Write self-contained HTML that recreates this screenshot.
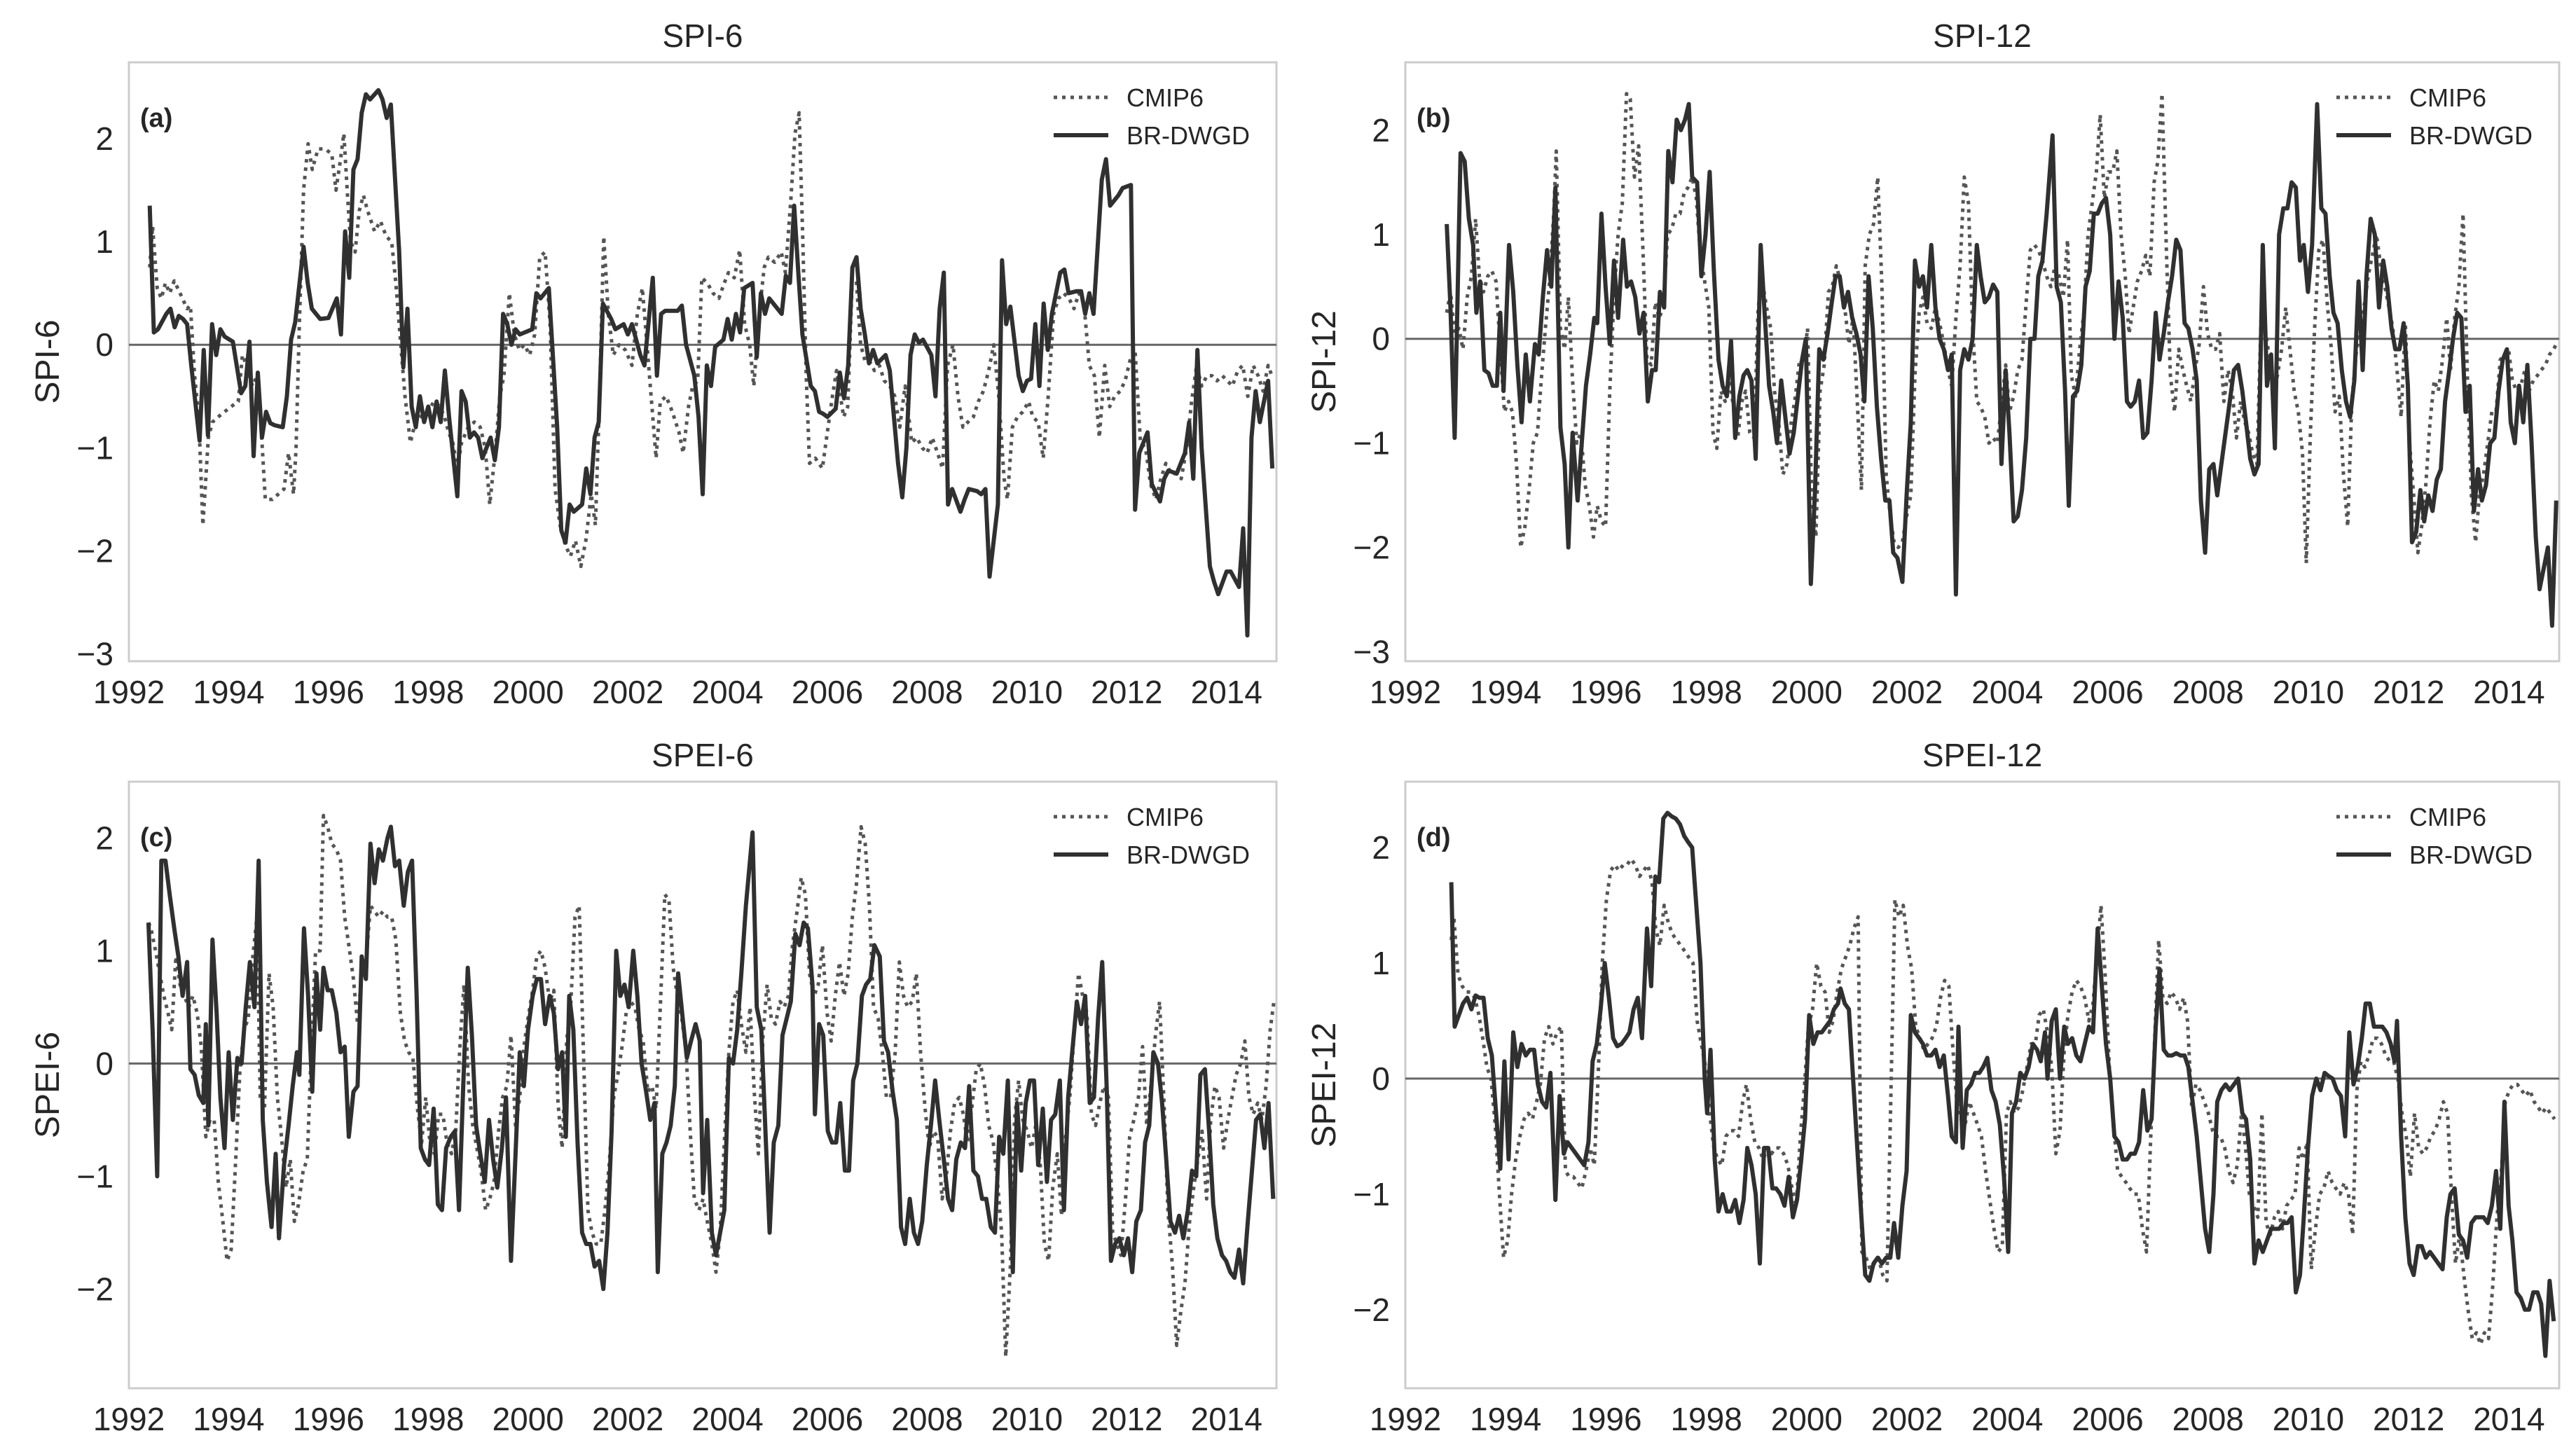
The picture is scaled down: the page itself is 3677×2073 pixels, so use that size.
<!DOCTYPE html>
<html><head><meta charset="utf-8"><title>SPI / SPEI comparison</title>
<style>
html,body{margin:0;padding:0;background:#fff;}
svg{display:block;font-family:"Liberation Sans",Arial,sans-serif;}
</style></head>
<body>
<svg id="chart" xmlns="http://www.w3.org/2000/svg" width="3677" height="2073" viewBox="0 0 3677 2073">
<rect x="0" y="0" width="3677" height="2073" fill="#ffffff"/>
</svg>
<script>
// month index counted from Jan 1992 (0). Each series: [month, value]
const xTickYears = [1992,1994,1996,1998,2000,2002,2004,2006,2008,2010,2012,2014];
const yTicksSPI = [-3,-2,-1,0,1,2];
const yTicksSPEI = [-2,-1,0,1,2];

const spi6Obs = [[5,1.35],[6,0.12],[7,0.15],[9,0.3],[10,0.35],[11,0.17],[12,0.28],[13,0.25],[14,0.2],[15,-0.2],[17,-0.93],[18,-0.05],[19,-0.88],[20,0.2],[21,-0.1],[22,0.15],[23,0.08],[25,0.03],[27,-0.47],[28,-0.4],[29,0.03],[30,-1.08],[31,-0.27],[32,-0.9],[33,-0.65],[34,-0.76],[35,-0.78],[37,-0.8],[38,-0.5],[39,0.05],[40,0.22],[42,0.95],[43,0.6],[44,0.35],[46,0.25],[48,0.26],[50,0.45],[51,0.1],[52,1.1],[53,0.65],[54,1.7],[55,1.8],[56,2.25],[57,2.43],[58,2.38],[60,2.47],[61,2.38],[62,2.2],[63,2.33],[65,0.9],[66,-0.22],[67,0.35],[68,-0.6],[69,-0.8],[70,-0.5],[71,-0.75],[72,-0.6],[73,-0.8],[74,-0.55],[75,-0.75],[76,-0.25],[77,-0.7],[79,-1.47],[80,-0.45],[81,-0.55],[82,-0.9],[83,-0.85],[84,-0.9],[85,-1.1],[87,-0.9],[88,-1.12],[89,-0.8],[90,0.3],[91,0.2],[92,0.0],[93,0.15],[94,0.1],[97,0.15],[98,0.5],[99,0.45],[101,0.55],[103,-0.8],[104,-1.8],[105,-1.92],[106,-1.55],[107,-1.62],[109,-1.55],[110,-1.2],[111,-1.45],[112,-0.9],[113,-0.75],[114,0.4],[116,0.25],[117,0.15],[119,0.2],[120,0.1],[121,0.2],[123,-0.1],[124,-0.2],[126,0.65],[127,-0.3],[128,0.3],[129,0.33],[132,0.33],[133,0.38],[134,0.0],[136,-0.3],[137,-0.7],[138,-1.45],[139,-0.2],[140,-0.4],[141,-0.02],[143,0.05],[144,0.25],[145,0.05],[146,0.3],[147,0.12],[148,0.55],[150,0.6],[151,-0.12],[152,0.5],[153,0.3],[154,0.45],[155,0.4],[157,0.3],[158,0.67],[159,0.6],[160,1.35],[161,0.7],[162,0.1],[164,-0.4],[165,-0.45],[166,-0.65],[167,-0.67],[168,-0.7],[170,-0.62],[171,-0.27],[172,-0.52],[173,-0.2],[174,0.75],[175,0.85],[176,0.35],[177,0.1],[178,-0.18],[179,-0.05],[180,-0.18],[182,-0.1],[183,-0.25],[184,-0.7],[185,-1.15],[186,-1.48],[187,-1.0],[188,-0.1],[189,0.1],[190,0.02],[191,0.05],[193,-0.1],[194,-0.5],[195,0.35],[196,0.7],[197,-1.55],[198,-1.4],[200,-1.62],[201,-1.5],[202,-1.4],[204,-1.42],[205,-1.45],[206,-1.4],[207,-2.25],[209,-1.55],[210,0.82],[211,0.2],[212,0.37],[214,-0.3],[215,-0.45],[216,-0.35],[217,-0.33],[218,0.2],[219,-0.4],[220,0.4],[221,-0.05],[222,0.3],[224,0.7],[225,0.73],[226,0.5],[228,0.52],[229,0.52],[230,0.3],[231,0.5],[232,0.3],[234,1.6],[235,1.8],[236,1.35],[238,1.45],[239,1.52],[241,1.55],[242,-1.6],[243,-1.05],[245,-0.85],[246,-1.35],[248,-1.52],[249,-1.3],[250,-1.22],[252,-1.25],[254,-1.05],[255,-0.75],[256,-1.3],[257,-0.05],[258,-1.0],[260,-2.15],[261,-2.3],[262,-2.42],[264,-2.2],[265,-2.2],[267,-2.35],[268,-1.78],[269,-2.82],[270,-0.9],[271,-0.45],[272,-0.75],[274,-0.35],[275,-1.2]];

const spi6Mod = [[5,0.75],[5.7,1.15],[6.8,0.55],[7.8,0.45],[8.8,0.6],[9.8,0.5],[10.9,0.62],[12.3,0.5],[14,0.35],[14.8,0.38],[15.8,-0.3],[16.8,-0.7],[17.8,-1.75],[19.1,-0.9],[20.1,-0.75],[21.5,-0.7],[23,-0.65],[24.6,-0.6],[26.3,-0.55],[27.3,-0.1],[28.3,-0.2],[29.7,-0.4],[30.8,-0.3],[31.8,-0.8],[32.8,-1.5],[34.5,-1.5],[35.9,-1.45],[37.3,-1.4],[38.4,-1.05],[39.6,-1.45],[40.2,-1.0],[41,0.2],[42,1.5],[43.1,1.95],[44.1,1.7],[45.5,1.9],[47.2,1.9],[48.8,1.85],[49.8,1.5],[50.9,1.8],[51.7,2.05],[52.5,1.5],[53.3,1.0],[54.4,0.9],[55.4,1.3],[56.4,1.45],[57.4,1.3],[59.1,1.1],[60.5,1.2],[61.9,1.05],[63.2,1.0],[64.2,0.6],[65.2,0.1],[66.4,-0.5],[67.7,-0.95],[68.9,-0.75],[70.1,-0.7],[71.8,-0.65],[73.4,-0.55],[74.8,-0.6],[75.9,-0.7],[76.9,-0.85],[77.9,-0.95],[79,-1.2],[80,-0.95],[81.6,-0.8],[83.1,-0.75],[84.5,-0.8],[85.7,-1.0],[86.8,-1.55],[88.2,-1.0],[89.2,-0.5],[90.2,-0.3],[91.5,0.5],[92.7,0.1],[93.9,-0.05],[95.1,0.0],[96.4,-0.1],[97.6,0.1],[98.8,0.85],[100.1,0.9],[101.3,0.2],[102.5,-1.4],[103.7,-1.75],[105,-1.95],[106.2,-2.05],[107.4,-1.9],[108.7,-2.15],[109.9,-1.9],[111.2,-1.45],[112.2,-1.75],[113.2,-0.5],[114.2,1.05],[115.3,0.3],[116.5,-0.1],[117.9,0.0],[119.4,-0.05],[121,-0.2],[122.3,0.3],[123.5,0.55],[124.6,0.0],[125.8,-0.6],[126.8,-1.1],[127.8,-0.55],[129.2,-0.5],[130.7,-0.65],[132.3,-0.85],[133.3,-1.05],[134.6,-0.6],[135.6,-0.4],[136.8,-0.35],[137.8,0.65],[139.1,0.6],[140.5,0.5],[141.9,0.45],[143.2,0.6],[144.2,0.7],[145.6,0.65],[146.9,0.92],[148.1,0.2],[149.3,0.0],[150.3,-0.4],[151.6,0.3],[152.8,0.75],[153.8,0.85],[155.3,0.8],[156.9,0.9],[157.9,0.7],[159.2,1.4],[160.2,2.05],[161.2,2.25],[162.1,1.0],[162.9,-0.3],[163.7,-1.15],[165.1,-1.1],[166.8,-1.2],[167.8,-0.9],[169.2,-0.5],[170.2,-0.25],[171.9,-0.7],[172.9,-0.6],[173.9,0.55],[175,0.6],[176,0.0],[177,-0.15],[178,-0.15],[179.3,-0.25],[180.5,-0.2],[181.7,-0.35],[183,-0.4],[184.2,-0.5],[185.4,-0.8],[186.7,-0.4],[188.3,-0.95],[189.5,-0.9],[190.8,-1.0],[192,-1.05],[193.2,-0.9],[194.5,-1.05],[195.7,-1.2],[196.9,-0.2],[198.2,0.0],[199.4,-0.5],[200.6,-0.8],[201.8,-0.75],[203.1,-0.7],[204.3,-0.55],[205.5,-0.45],[206.8,-0.25],[208,0.0],[209.2,-0.5],[210.5,-1.3],[211.3,-1.5],[212.5,-0.8],[213.7,-0.7],[215,-0.65],[216.4,-0.55],[217.4,-0.7],[218.7,-0.75],[219.9,-1.1],[221.1,-0.5],[222.4,0.3],[223.6,0.45],[224.8,0.5],[226.1,0.45],[227.3,0.35],[228.5,0.5],[229.7,0.4],[231,-0.2],[232.2,-0.3],[233.4,-0.9],[234.7,-0.2],[235.9,-0.6],[237.1,-0.5],[238.4,-0.45],[239.6,-0.35],[240.8,-0.15],[242,-0.05],[243.3,-0.95],[244.5,-1.0],[245.7,-1.35],[247,-1.5],[248.2,-1.3],[249.4,-1.15],[250.7,-1.25],[251.9,-1.25],[253.1,-1.3],[254.4,-1.0],[255.6,-0.55],[256.8,-0.2],[258,-0.4],[259.3,-0.3],[260.5,-0.3],[261.7,-0.35],[263,-0.3],[264.2,-0.35],[265.4,-0.4],[266.7,-0.25],[267.9,-0.2],[269.1,-0.5],[270.4,-0.2],[271.6,-0.3],[272.8,-0.45],[274,-0.2],[274.9,-0.3]];

const spi12Obs = [[9.9,1.1],[10.8,0.3],[11.8,-0.95],[13.2,1.78],[14.2,1.7],[15.2,1.15],[16.2,0.9],[17.0,0.25],[17.9,0.55],[18.9,-0.3],[19.9,-0.33],[20.9,-0.45],[21.9,-0.45],[22.7,0.25],[23.5,-0.5],[24.8,0.9],[25.8,0.45],[26.8,-0.25],[27.8,-0.8],[28.8,-0.15],[29.8,-0.6],[31.0,-0.05],[31.9,-0.15],[32.9,0.4],[33.9,0.85],[34.9,0.5],[35.9,1.45],[37.1,-0.85],[38.1,-1.2],[39.0,-2.0],[40.0,-0.9],[41.2,-1.55],[42.2,-1.0],[43.2,-0.45],[44.2,-0.15],[45.2,0.2],[45.9,0.15],[46.9,1.2],[47.9,0.5],[48.9,-0.05],[49.9,0.75],[50.9,0.2],[52.1,0.95],[53.0,0.5],[54.0,0.55],[55.0,0.4],[56.0,0.05],[57.0,0.25],[58.0,-0.6],[59.0,-0.3],[59.9,-0.3],[60.9,0.45],[61.9,0.3],[62.9,1.8],[63.9,1.5],[64.9,2.1],[65.9,2.0],[66.9,2.1],[67.8,2.25],[68.6,1.55],[69.8,1.5],[70.8,0.6],[71.8,1.0],[72.8,1.6],[73.8,0.65],[74.9,-0.2],[75.9,-0.45],[76.9,-0.55],[77.9,-0.02],[78.9,-0.95],[79.9,-0.55],[80.9,-0.35],[81.8,-0.3],[82.8,-0.4],[83.8,-1.15],[85.0,0.9],[86.0,0.2],[87.0,-0.45],[88.0,-0.7],[88.9,-1.0],[89.9,-0.4],[90.9,-0.75],[91.9,-1.1],[92.9,-0.9],[93.9,-0.55],[94.9,-0.2],[95.8,0.0],[97.0,-2.35],[98.0,-1.45],[99.0,-0.1],[100.0,-0.2],[101.0,0.05],[102.0,0.35],[102.9,0.6],[103.9,0.6],[104.9,0.3],[105.9,0.45],[106.9,0.2],[107.9,0.05],[108.9,-0.15],[109.8,-0.6],[110.8,0.6],[111.8,0.1],[112.8,-0.65],[113.8,-1.15],[114.8,-1.55],[115.8,-1.55],[116.7,-2.05],[117.7,-2.1],[118.9,-2.33],[119.9,-1.5],[120.9,-0.8],[121.9,0.75],[122.9,0.5],[123.8,0.6],[124.8,0.3],[125.8,0.9],[126.8,0.3],[127.8,0.0],[128.8,-0.1],[129.8,-0.3],[130.7,-0.15],[131.7,-2.45],[132.7,-0.3],[133.7,-0.1],[134.7,-0.2],[135.7,0.0],[136.7,0.9],[137.6,0.6],[138.6,0.35],[139.6,0.4],[140.6,0.52],[141.6,0.45],[142.6,-1.2],[143.6,-0.3],[144.5,-0.9],[145.5,-1.75],[146.5,-1.7],[147.5,-1.45],[148.5,-0.95],[149.5,0.0],[150.5,0.0],[151.4,0.6],[152.4,0.75],[153.4,1.2],[154.8,1.95],[155.8,0.5],[156.8,0.35],[157.8,-0.5],[158.7,-1.6],[159.7,-0.55],[160.7,-0.5],[161.7,-0.25],[162.7,0.5],[163.7,0.65],[164.7,1.2],[165.6,1.2],[166.6,1.3],[167.6,1.35],[168.6,1.0],[169.6,0.0],[170.6,0.55],[171.6,0.2],[172.6,-0.6],[173.5,-0.65],[174.5,-0.6],[175.5,-0.4],[176.5,-0.95],[177.5,-0.9],[178.5,-0.4],[179.5,0.25],[180.4,-0.2],[181.4,0.05],[182.4,0.35],[183.4,0.6],[184.4,0.95],[185.4,0.85],[186.4,0.15],[187.3,0.1],[188.3,-0.1],[189.3,-0.4],[190.3,-1.55],[191.3,-2.05],[192.3,-1.25],[193.3,-1.2],[194.2,-1.5],[195.2,-1.2],[196.2,-0.9],[197.2,-0.6],[198.2,-0.3],[199.2,-0.25],[200.2,-0.5],[201.1,-0.8],[202.1,-1.15],[203.1,-1.3],[204.1,-1.2],[205.1,0.9],[206.1,-0.45],[207.1,-0.15],[208.0,-1.05],[209.0,1.0],[210.0,1.25],[211.0,1.25],[212.0,1.5],[213.0,1.45],[214.0,0.75],[214.9,0.9],[215.9,0.45],[216.9,0.9],[218.1,2.25],[219.1,1.25],[220.1,1.2],[221.1,0.6],[222.0,0.25],[223.0,0.15],[224.0,-0.3],[225.0,-0.6],[226.0,-0.75],[227.0,-0.4],[228.0,0.55],[229.0,-0.3],[229.9,0.6],[230.9,1.15],[231.9,1.0],[232.9,0.3],[233.9,0.75],[234.9,0.5],[235.9,0.1],[236.8,-0.1],[237.8,-0.1],[238.8,0.15],[239.8,-0.45],[240.8,-1.95],[241.8,-1.85],[242.8,-1.45],[243.7,-1.75],[244.7,-1.5],[245.7,-1.65],[246.7,-1.35],[247.7,-1.25],[248.7,-0.6],[249.7,-0.3],[250.6,0.0],[251.6,0.25],[252.6,0.2],[253.6,-0.7],[254.6,-0.45],[255.6,-1.65],[256.6,-1.25],[257.5,-1.55],[258.5,-1.4],[259.5,-1.0],[260.5,-0.95],[261.5,-0.5],[262.5,-0.2],[263.5,-0.1],[264.4,-0.8],[265.4,-1.0],[266.4,-0.45],[267.4,-0.8],[268.4,-0.25],[269.4,-1.0],[270.4,-1.9],[271.3,-2.4],[272.3,-2.2],[273.3,-2.0],[274.3,-2.75],[275.3,-1.55]];

const spi12Mod = [[9.9,0.25],[10.8,0.45],[11.8,0.05],[12.8,0.1],[13.8,-0.1],[14.8,0.4],[15.8,0.6],[16.8,1.15],[17.7,0.6],[18.7,0.45],[19.7,0.6],[20.7,0.65],[21.7,0.55],[22.7,-0.1],[23.7,-0.7],[24.7,-0.6],[25.6,-0.7],[26.6,-1.2],[27.6,-2.0],[28.6,-1.8],[29.6,-1.45],[30.6,-1.0],[31.6,-0.9],[32.5,-0.4],[33.5,0.1],[34.5,0.55],[35.5,1.2],[36.1,1.8],[37.1,0.1],[38.1,-0.1],[39.0,0.4],[40.0,-0.4],[41.0,-1.0],[42.0,-0.9],[43.0,-1.4],[44.0,-1.6],[45.0,-1.9],[45.9,-1.6],[46.9,-1.75],[47.9,-1.8],[48.9,-0.5],[49.9,0.4],[50.9,1.0],[51.9,1.3],[52.9,2.35],[53.8,2.3],[54.8,1.55],[55.8,1.85],[56.8,0.9],[57.8,-0.2],[58.8,-0.25],[59.8,0.35],[60.7,0.2],[61.7,0.3],[62.7,1.0],[63.7,1.05],[64.7,1.2],[65.7,1.2],[66.7,1.4],[67.6,1.45],[68.6,1.55],[69.6,1.35],[70.6,0.8],[71.6,0.55],[72.6,0.3],[73.6,-0.9],[74.5,-1.05],[75.5,-0.5],[76.5,-0.6],[77.5,-0.4],[78.5,-0.65],[79.5,-0.95],[80.5,-0.6],[81.4,-0.5],[82.4,-0.9],[83.4,-0.95],[84.4,0.3],[85.4,0.55],[86.4,0.3],[87.4,0.1],[88.3,-0.5],[89.3,-0.8],[90.3,-1.3],[91.3,-1.2],[92.3,-0.8],[93.3,-0.55],[94.3,-0.2],[95.2,-0.25],[96.2,0.1],[97.2,-1.5],[98.2,-1.9],[99.2,-0.5],[100.2,-0.25],[101.2,0.45],[102.1,0.5],[103.1,0.7],[104.1,0.55],[105.1,0.3],[106.1,-0.05],[107.1,0.2],[108.1,-0.6],[109.1,-1.45],[110.0,0.7],[111.0,1.0],[112.0,1.1],[113.0,1.55],[114.0,0.5],[115.0,-1.3],[116.0,-1.7],[116.9,-1.95],[117.9,-2.0],[118.9,-1.95],[119.9,-1.7],[120.9,-1.5],[121.9,-0.35],[122.9,0.25],[123.8,0.4],[124.8,0.15],[125.8,0.1],[126.8,0.3],[127.8,0.15],[128.8,-0.05],[129.8,-0.3],[130.7,-0.45],[131.7,0.2],[132.7,0.7],[133.7,1.55],[134.7,1.3],[135.7,0.1],[136.7,-0.6],[137.6,-0.65],[138.6,-0.75],[139.6,-1.0],[140.6,-0.95],[141.6,-1.0],[142.6,-0.65],[143.6,-0.25],[144.5,-0.7],[145.5,-0.55],[146.5,-0.3],[147.5,-0.2],[148.5,0.35],[149.5,0.85],[150.5,0.9],[151.4,0.85],[152.4,0.75],[153.4,0.6],[154.4,0.5],[155.4,0.7],[156.4,0.6],[157.4,0.4],[158.4,0.95],[159.3,-0.35],[160.3,-0.55],[161.3,-0.1],[162.3,0.25],[163.3,1.0],[164.3,1.3],[165.3,1.6],[166.2,2.15],[167.2,1.35],[168.2,1.6],[169.2,1.6],[170.2,1.8],[171.2,1.0],[172.2,0.6],[173.1,0.05],[174.1,0.3],[175.1,0.55],[176.1,0.65],[177.1,0.8],[178.1,0.6],[179.1,1.5],[180.0,1.7],[181.0,2.35],[182.0,0.9],[183.0,-0.35],[184.0,-0.7],[185.0,-0.1],[186.0,-0.3],[186.9,-0.45],[187.9,-0.6],[188.9,-0.3],[189.9,-0.05],[190.9,0.5],[191.9,0.05],[192.9,-0.1],[193.8,-0.1],[194.8,0.05],[195.8,-0.6],[196.8,-0.3],[197.8,-0.5],[198.8,-0.95],[199.8,-0.6],[200.8,-0.8],[201.7,-0.9],[202.7,-1.1],[203.7,-1.2],[204.7,0.2],[205.7,0.1],[206.7,-0.2],[207.7,-0.5],[208.6,-0.35],[209.6,-0.1],[210.6,0.3],[211.6,-0.1],[212.6,-0.5],[213.6,-0.7],[214.6,-1.1],[215.5,-2.15],[216.5,-0.9],[217.5,0.1],[218.5,0.85],[219.5,0.95],[220.5,0.35],[221.5,-0.1],[222.4,-0.7],[223.4,-0.55],[224.4,-1.3],[225.4,-1.8],[226.4,-0.6],[227.4,-0.15],[228.4,0.1],[229.3,0.3],[230.3,0.6],[231.3,0.8],[232.3,1.0],[233.3,0.7],[234.3,0.5],[235.3,0.3],[236.2,0.1],[237.2,-0.3],[238.2,-0.75],[239.2,0.15],[240.2,-1.0],[241.2,-1.5],[242.2,-2.05],[243.1,-1.8],[244.1,-1.4],[245.1,-0.8],[246.1,-0.4],[247.1,-0.5],[248.1,-0.2],[249.1,0.2],[250.0,-0.3],[251.0,0.2],[252.0,0.5],[253.0,1.2],[254.0,-0.3],[255.0,-1.5],[256.0,-1.95],[256.9,-1.5],[257.9,-1.3],[258.9,-1.0],[259.9,-0.7],[260.9,-0.7],[261.9,-0.2],[262.9,-0.15],[263.9,-0.1],[264.8,-0.4],[265.8,-0.5],[266.8,-0.45],[267.8,-0.3],[268.8,-0.5],[269.8,-0.4],[270.8,-0.35],[271.7,-0.3],[272.7,-0.25],[273.7,-0.15],[274.7,-0.1],[275.3,-0.05]];

const spei6Obs = [[4.7,1.25],[5.7,0.3],[6.8,-1.0],[7.8,1.8],[8.8,1.8],[9.8,1.5],[10.9,1.2],[11.9,0.95],[12.9,0.6],[14.0,0.9],[14.8,-0.05],[15.8,-0.1],[16.8,-0.28],[17.9,-0.35],[18.5,0.35],[19.1,-0.55],[20.1,1.1],[21.1,0.45],[22.0,-0.3],[23.0,-0.75],[24.0,0.1],[25.0,-0.5],[26.1,0.05],[27.1,0.0],[28.1,0.5],[29.1,0.9],[30.2,0.5],[31.2,1.8],[32.2,-0.5],[33.2,-1.05],[34.3,-1.45],[35.3,-0.8],[36.1,-1.55],[37.3,-0.9],[38.4,-0.55],[39.4,-0.2],[40.4,0.1],[41.0,-0.1],[42.1,1.2],[43.1,0.6],[44.1,-0.25],[45.1,0.8],[46.0,0.3],[46.8,0.85],[47.8,0.65],[48.8,0.65],[49.9,0.45],[50.9,0.1],[51.9,0.15],[52.9,-0.65],[54.0,-0.25],[55.0,-0.2],[56.0,0.95],[57.0,0.75],[58.1,1.95],[59.1,1.6],[60.1,1.9],[61.1,1.8],[62.2,2.0],[63.0,2.1],[64.0,1.75],[65.0,1.8],[66.1,1.4],[67.1,1.7],[68.1,1.8],[69.2,0.6],[70.2,-0.75],[71.2,-0.85],[72.2,-0.9],[73.3,-0.4],[74.3,-1.25],[75.3,-1.3],[76.3,-0.75],[77.4,-0.65],[78.4,-0.6],[79.4,-1.3],[80.4,-0.2],[81.5,0.85],[82.5,0.25],[83.5,-0.55],[84.5,-0.8],[85.6,-1.05],[86.6,-0.5],[87.6,-0.85],[88.6,-1.1],[89.7,-0.75],[90.7,-0.3],[91.9,-1.75],[93.0,-0.8],[94.0,0.1],[95.0,-0.2],[96.0,0.3],[97.1,0.6],[98.1,0.75],[99.1,0.75],[100.1,0.35],[101.2,0.6],[102.2,0.45],[103.2,-0.05],[104.2,0.1],[105.1,-0.65],[105.9,0.6],[106.9,0.3],[107.9,-0.7],[109.0,-1.5],[110.0,-1.6],[111.0,-1.6],[112.0,-1.8],[113.1,-1.75],[114.1,-2.0],[115.1,-1.5],[116.1,-0.6],[117.2,1.0],[118.2,0.6],[119.2,0.7],[120.2,0.5],[121.3,1.0],[122.3,0.6],[123.3,0.0],[124.4,-0.25],[125.4,-0.5],[126.4,-0.35],[127.2,-1.85],[128.3,-0.8],[129.3,-0.7],[130.3,-0.55],[131.3,-0.2],[132.1,0.8],[133.2,0.4],[134.2,0.05],[135.2,0.2],[136.3,0.35],[137.3,0.2],[138.1,-1.15],[139.1,-0.5],[140.2,-1.5],[141.2,-1.7],[142.2,-1.5],[143.2,-1.3],[144.3,0.05],[145.3,0.0],[146.3,0.3],[147.3,0.8],[148.4,1.4],[150.0,2.05],[151.0,0.5],[152.1,0.3],[153.1,-0.6],[154.1,-1.5],[155.1,-0.7],[156.2,-0.55],[157.2,0.25],[158.2,0.4],[159.2,0.55],[160.3,1.15],[161.3,1.05],[162.3,1.25],[163.3,1.2],[164.4,0.7],[165.0,-0.45],[166.0,0.35],[167.0,0.25],[168.1,-0.6],[169.1,-0.7],[170.1,-0.7],[171.1,-0.35],[172.2,-0.95],[173.2,-0.95],[174.2,-0.15],[175.2,0.0],[176.3,0.6],[177.3,0.7],[178.3,0.75],[179.3,1.05],[180.6,0.95],[181.6,0.2],[182.6,0.1],[183.7,-0.25],[184.7,-0.5],[185.7,-1.45],[186.7,-1.6],[187.8,-1.2],[188.8,-1.5],[189.8,-1.6],[190.8,-1.4],[191.9,-0.9],[192.9,-0.55],[193.9,-0.15],[194.9,-0.5],[196.0,-0.85],[197.0,-1.2],[198.0,-1.3],[199.0,-0.85],[200.1,-0.7],[201.1,-0.75],[202.1,-0.2],[203.1,-0.95],[204.2,-1.0],[205.2,-1.2],[206.2,-1.2],[207.3,-1.45],[208.3,-1.5],[209.3,-0.65],[210.3,-0.8],[211.4,-0.15],[212.6,-1.85],[213.6,-0.35],[214.6,-0.95],[215.7,-0.35],[216.7,-0.15],[217.7,-0.15],[218.7,-0.9],[219.8,-0.4],[220.8,-1.05],[221.8,-0.5],[222.8,-0.45],[223.9,-0.15],[224.9,-1.3],[225.9,-0.3],[227.0,0.15],[228.0,0.55],[229.0,0.35],[230.0,0.6],[231.1,-0.35],[232.1,-0.3],[233.1,0.4],[234.1,0.9],[235.2,-0.25],[236.2,-1.75],[237.2,-1.6],[238.2,-1.55],[239.3,-1.7],[240.3,-1.55],[241.3,-1.85],[242.3,-1.4],[243.4,-1.3],[244.4,-0.7],[245.4,-0.55],[246.4,0.1],[247.5,0.0],[248.5,-0.35],[249.5,-0.85],[250.5,-1.4],[251.6,-1.5],[252.6,-1.35],[253.6,-1.55],[254.7,-1.3],[255.7,-0.95],[256.7,-1.0],[257.7,-0.1],[258.8,-0.05],[259.8,-0.6],[260.8,-1.25],[261.8,-1.55],[262.9,-1.7],[263.9,-1.75],[264.9,-1.85],[265.9,-1.9],[267.0,-1.65],[268.0,-1.95],[269.0,-1.45],[270.0,-1.0],[271.1,-0.5],[272.1,-0.45],[273.1,-0.75],[274.1,-0.35],[275.2,-1.2]];

const spei6Mod = [[4.7,1.25],[5.3,1.2],[6.4,1.0],[7.4,0.8],[8.4,0.6],[9.4,0.45],[10.3,0.3],[11.3,0.95],[12.3,0.7],[13.3,0.6],[14.4,0.5],[15.4,0.6],[16.4,0.45],[17.4,0.15],[18.5,-0.65],[19.5,-0.5],[20.5,-0.5],[21.5,-1.05],[22.6,-1.4],[23.6,-1.75],[24.6,-1.65],[25.7,-0.85],[26.7,-0.05],[27.7,0.3],[28.7,0.4],[29.8,0.95],[30.8,1.3],[31.6,-0.3],[32.6,-0.4],[33.7,0.8],[34.7,0.5],[35.7,-0.3],[36.7,-0.65],[37.8,-1.1],[38.8,-0.85],[39.8,-1.4],[40.8,-1.25],[41.9,-0.95],[42.9,-0.85],[43.9,0.15],[44.9,1.0],[46.0,1.0],[46.8,2.2],[47.8,2.1],[48.8,1.95],[49.9,1.9],[50.9,1.8],[51.9,1.3],[52.9,1.05],[54.0,0.75],[55.0,0.35],[56.0,0.8],[57.0,0.9],[58.1,1.4],[59.1,1.35],[60.1,1.3],[61.1,1.35],[62.2,1.3],[63.2,1.3],[64.2,1.1],[65.3,0.45],[66.3,0.2],[67.3,0.1],[68.3,0.05],[69.4,-0.4],[70.4,-0.7],[71.4,-0.3],[72.4,-0.7],[73.5,-0.8],[74.5,-0.45],[75.5,-0.45],[76.5,-0.7],[77.6,-0.8],[78.6,-0.6],[79.6,0.15],[80.6,0.7],[81.7,-0.2],[82.7,-0.55],[83.7,-0.75],[84.7,-0.95],[85.8,-1.3],[86.8,-1.2],[87.8,-1.05],[88.9,-0.6],[89.9,-0.3],[90.9,-0.2],[91.9,0.25],[93.0,-0.55],[94.0,-0.3],[95.0,0.15],[96.0,0.4],[97.1,0.65],[98.1,0.95],[99.1,1.0],[100.1,0.85],[101.2,0.55],[102.2,0.65],[103.2,-0.35],[104.2,-0.75],[105.3,0.2],[106.3,0.55],[107.3,1.3],[108.3,1.4],[109.4,0.0],[110.4,-1.3],[111.4,-1.5],[112.4,-1.6],[113.5,-1.6],[114.5,-1.3],[115.5,-0.9],[116.6,-0.3],[117.6,-0.1],[118.6,0.15],[119.6,0.45],[120.7,0.55],[121.7,0.5],[122.7,0.3],[123.7,0.2],[124.8,-0.25],[125.8,-0.2],[126.8,-0.4],[127.8,0.5],[128.9,1.5],[129.9,1.45],[130.9,0.85],[131.9,0.6],[133.0,0.4],[134.0,0.1],[135.0,-0.6],[136.0,-1.2],[137.1,-1.3],[138.1,-1.2],[139.1,-1.4],[140.2,-1.6],[141.2,-1.85],[142.2,-1.5],[143.2,-0.7],[144.3,0.1],[145.3,0.55],[146.3,0.65],[147.3,0.35],[148.4,0.1],[149.4,0.5],[150.4,-0.25],[151.4,-0.8],[152.5,0.25],[153.5,0.7],[154.5,0.4],[155.5,0.35],[156.6,0.55],[157.6,0.5],[158.6,0.6],[159.6,1.05],[160.7,1.35],[161.7,1.65],[162.7,1.5],[163.7,0.8],[164.8,0.6],[165.8,0.7],[166.8,1.05],[167.9,0.45],[168.9,0.2],[169.9,0.6],[170.9,0.9],[172.0,0.6],[173.0,0.8],[174.0,1.3],[175.0,1.6],[176.1,2.1],[177.1,1.95],[178.1,1.4],[179.1,0.5],[180.2,0.4],[181.2,0.1],[182.2,-0.3],[183.2,-0.3],[184.3,0.1],[185.3,0.9],[186.3,0.6],[187.3,0.5],[188.4,0.55],[189.4,0.8],[190.4,0.1],[191.5,-0.4],[192.5,-0.75],[193.5,-0.6],[194.5,-0.65],[195.6,-1.2],[196.6,-1.0],[197.6,-0.6],[198.6,-0.35],[199.7,-0.3],[200.7,-0.45],[201.7,-0.7],[202.7,-0.4],[203.8,-0.05],[204.8,0.0],[205.8,-0.2],[206.8,-0.55],[207.9,-0.7],[208.9,-1.05],[209.9,-1.5],[210.9,-2.6],[212.0,-1.8],[213.0,-0.5],[214.0,-0.15],[215.0,-0.5],[216.1,-0.6],[217.1,-0.75],[218.1,-0.55],[219.2,-0.9],[220.2,-1.6],[221.2,-1.75],[222.2,-1.1],[223.3,-0.8],[224.3,-1.35],[225.3,-0.65],[226.3,-0.3],[227.4,0.3],[228.4,0.8],[229.4,0.6],[230.4,0.45],[231.5,-0.45],[232.5,-0.55],[233.5,-0.35],[234.5,-0.2],[235.6,-0.3],[236.6,-1.5],[237.6,-1.6],[238.6,-1.7],[239.7,-1.2],[240.7,-0.65],[241.7,-0.5],[242.8,-0.3],[243.8,0.15],[244.8,-0.55],[245.8,-0.2],[246.9,0.25],[247.9,0.55],[248.9,-0.3],[249.9,-1.3],[251.0,-1.8],[252.0,-2.5],[253.0,-2.2],[254.0,-1.95],[255.1,-1.4],[256.1,-1.1],[257.1,-0.85],[258.1,-0.6],[259.2,-1.2],[260.2,-0.5],[261.2,-0.2],[262.2,-0.3],[263.3,-0.75],[264.3,-0.5],[265.3,-0.3],[266.3,-0.1],[267.4,0.0],[268.4,0.2],[269.4,-0.3],[270.4,-0.45],[271.5,-0.35],[272.5,-0.5],[273.5,-0.2],[274.5,0.3],[275.4,0.55]];

const spei12Obs = [[11.0,1.7],[11.8,0.45],[12.8,0.55],[13.8,0.65],[14.8,0.7],[15.8,0.6],[16.8,0.72],[17.7,0.7],[18.7,0.7],[19.7,0.35],[20.7,0.2],[21.7,-0.3],[22.7,-0.78],[23.7,0.15],[24.7,-0.7],[25.8,0.4],[26.8,0.1],[27.8,0.3],[28.8,0.2],[29.8,0.25],[30.8,0.25],[31.7,-0.05],[32.7,-0.2],[33.7,-0.25],[34.7,0.05],[35.9,-1.05],[36.9,-0.15],[37.9,-0.65],[38.8,-0.55],[39.8,-0.6],[40.8,-0.65],[41.8,-0.7],[42.8,-0.75],[43.8,-0.55],[44.8,0.15],[45.8,0.3],[46.7,0.6],[47.7,1.0],[48.7,0.7],[49.7,0.35],[50.7,0.28],[51.7,0.3],[52.7,0.35],[53.6,0.4],[54.6,0.6],[55.6,0.7],[56.6,0.35],[57.8,1.3],[58.8,0.8],[59.8,1.75],[60.7,1.7],[61.7,2.25],[62.7,2.3],[63.7,2.27],[64.7,2.25],[65.7,2.2],[66.7,2.1],[67.6,2.05],[68.6,2.0],[69.6,1.5],[70.6,1.0],[71.6,0.0],[72.2,-0.3],[73.0,0.25],[74.0,-0.7],[74.9,-1.15],[75.9,-1.0],[76.9,-1.15],[77.9,-1.15],[78.9,-1.05],[79.9,-1.25],[80.9,-1.05],[81.8,-0.6],[82.8,-0.75],[83.8,-1.0],[84.8,-1.6],[85.8,-0.6],[86.8,-0.6],[87.8,-0.95],[88.7,-0.95],[89.7,-1.0],[90.7,-1.1],[91.7,-0.85],[92.7,-1.2],[93.7,-1.05],[94.7,-0.7],[95.6,-0.35],[96.6,0.55],[97.6,0.3],[98.6,0.4],[99.6,0.4],[100.6,0.45],[101.6,0.5],[102.5,0.6],[103.5,0.65],[104.1,0.78],[105.1,0.65],[106.1,0.6],[107.1,0.0],[108.1,-0.6],[109.1,-1.2],[110.0,-1.7],[111.0,-1.75],[112.0,-1.6],[113.0,-1.55],[114.0,-1.6],[115.0,-1.55],[116.0,-1.55],[116.9,-1.25],[117.9,-1.55],[118.9,-1.1],[119.9,-0.8],[120.9,0.55],[121.9,0.4],[122.9,0.35],[123.8,0.3],[124.8,0.2],[125.8,0.2],[126.8,0.25],[127.8,0.1],[128.8,0.2],[129.8,-0.15],[130.7,-0.5],[131.7,-0.55],[132.3,0.45],[133.3,-0.6],[134.3,-0.1],[135.3,-0.05],[136.3,0.05],[137.3,0.05],[138.2,0.1],[139.2,0.18],[140.2,-0.1],[141.2,-0.2],[142.2,-0.4],[143.2,-0.85],[144.2,-1.5],[145.1,-0.3],[146.1,-0.2],[147.1,0.05],[148.1,0.0],[149.1,0.1],[150.1,0.3],[151.1,0.25],[152.0,0.15],[153.0,0.4],[153.6,0.0],[154.6,0.5],[155.6,0.6],[156.6,0.0],[157.6,0.45],[158.5,0.3],[159.5,0.35],[160.5,0.2],[161.5,0.15],[162.5,0.3],[163.5,0.45],[164.5,0.4],[165.6,1.3],[166.6,0.8],[167.6,0.3],[168.6,0.0],[169.6,-0.5],[170.6,-0.55],[171.6,-0.7],[172.6,-0.7],[173.5,-0.65],[174.5,-0.65],[175.5,-0.55],[176.5,-0.1],[177.5,-0.45],[178.5,-0.35],[179.5,0.45],[180.4,0.95],[181.4,0.25],[182.4,0.2],[183.4,0.2],[184.4,0.22],[185.4,0.2],[186.4,0.2],[187.3,0.1],[188.3,-0.2],[189.3,-0.5],[190.3,-0.9],[191.3,-1.3],[192.3,-1.5],[193.3,-1.0],[194.2,-0.2],[195.2,-0.1],[196.2,-0.05],[197.2,-0.1],[198.2,-0.05],[199.2,0.0],[200.2,-0.3],[201.1,-0.35],[202.1,-0.7],[203.1,-1.6],[204.1,-1.4],[205.1,-1.5],[206.1,-1.4],[207.1,-1.3],[208.0,-1.3],[209.0,-1.3],[210.0,-1.25],[211.0,-1.25],[212.0,-1.2],[213.0,-1.85],[214.0,-1.7],[214.9,-1.2],[215.9,-0.6],[216.9,-0.15],[217.9,0.0],[218.9,-0.1],[219.9,0.05],[220.9,0.02],[221.8,0.0],[222.8,-0.1],[223.8,-0.15],[224.8,-0.5],[225.8,0.4],[226.8,-0.05],[227.8,0.1],[228.8,0.35],[229.7,0.65],[230.7,0.65],[231.7,0.45],[232.7,0.45],[233.7,0.45],[234.7,0.4],[235.7,0.3],[236.6,0.15],[237.2,0.5],[238.2,-0.5],[239.2,-1.2],[240.2,-1.6],[241.2,-1.7],[242.2,-1.45],[243.1,-1.45],[244.1,-1.55],[245.1,-1.5],[246.1,-1.55],[247.1,-1.6],[248.1,-1.65],[249.1,-1.2],[250.0,-1.0],[251.0,-0.95],[252.0,-1.35],[253.0,-1.4],[254.0,-1.55],[255.0,-1.25],[256.0,-1.2],[256.9,-1.2],[257.9,-1.2],[258.9,-1.25],[259.9,-1.1],[260.9,-0.8],[261.9,-1.3],[262.9,-0.2],[263.9,-1.1],[264.8,-1.4],[265.8,-1.85],[266.8,-1.9],[267.8,-2.0],[268.8,-2.0],[269.8,-1.85],[270.8,-1.85],[271.7,-1.95],[272.7,-2.4],[273.7,-1.75],[274.7,-2.1]];

const spei12Mod = [[11.0,1.2],[11.6,1.4],[12.6,0.9],[13.6,0.8],[14.6,0.75],[15.6,0.75],[16.6,0.7],[17.6,0.55],[18.5,0.35],[19.5,0.1],[20.5,0.0],[21.5,-0.4],[22.5,-1.0],[23.5,-1.55],[24.5,-1.4],[25.4,-1.0],[26.4,-0.7],[27.4,-0.5],[28.4,-0.35],[29.4,-0.3],[30.4,-0.35],[31.4,-0.2],[32.3,-0.05],[33.3,0.35],[34.3,0.45],[35.3,0.3],[36.3,0.4],[37.3,0.45],[38.3,-0.8],[39.2,-0.85],[40.2,-0.85],[41.2,-0.9],[42.2,-0.95],[43.2,-0.8],[44.2,-0.6],[45.2,-0.75],[46.1,0.0],[47.1,1.0],[48.1,1.55],[49.1,1.8],[50.1,1.85],[51.1,1.8],[52.1,1.85],[53.0,1.85],[54.0,1.9],[55.0,1.85],[56.0,1.75],[57.0,1.8],[58.0,1.85],[59.0,1.7],[59.9,1.3],[60.9,1.15],[61.9,1.5],[62.9,1.35],[63.9,1.25],[64.9,1.2],[65.9,1.15],[66.9,1.1],[67.8,1.05],[68.8,1.0],[69.8,0.5],[70.8,0.3],[71.8,0.1],[72.8,-0.3],[73.8,-0.6],[74.7,-0.7],[75.7,-0.75],[76.7,-0.5],[77.7,-0.45],[78.7,-0.45],[79.7,-0.5],[80.7,-0.2],[81.6,-0.05],[82.6,-0.35],[83.6,-0.55],[84.6,-0.6],[85.6,-0.7],[86.6,-0.6],[87.6,-0.65],[88.5,-0.6],[89.5,-0.6],[90.5,-0.65],[91.5,-0.75],[92.5,-0.95],[93.5,-1.1],[94.5,-0.5],[95.4,-0.1],[96.4,0.45],[97.4,0.6],[98.4,1.0],[99.4,0.8],[100.4,0.75],[101.4,0.4],[102.3,0.5],[103.3,0.75],[104.3,0.95],[105.3,1.05],[106.3,1.15],[107.3,1.3],[108.3,1.4],[109.2,-1.5],[110.2,-1.55],[111.2,-1.65],[112.2,-1.6],[113.2,-1.55],[114.2,-1.7],[115.2,-1.75],[116.2,-0.05],[117.1,1.55],[118.1,1.4],[119.1,1.5],[120.1,1.15],[121.1,0.95],[122.1,0.45],[123.1,0.35],[124.0,0.25],[125.0,0.3],[126.0,0.35],[127.0,0.45],[128.0,0.7],[129.0,0.85],[130.0,0.8],[130.9,0.3],[131.9,-0.2],[132.9,-0.35],[133.9,-0.4],[134.9,-0.2],[135.9,-0.3],[136.9,-0.4],[137.8,-0.5],[138.8,-0.8],[139.8,-1.05],[140.8,-1.3],[141.8,-1.5],[142.8,-1.45],[143.8,-0.3],[144.7,-0.2],[145.7,-0.3],[146.7,-0.25],[147.7,-0.1],[148.7,0.1],[149.7,0.3],[150.7,0.3],[151.6,0.55],[152.6,0.6],[153.6,0.4],[154.6,0.1],[155.6,-0.65],[156.6,-0.45],[157.6,0.25],[158.5,0.55],[159.5,0.75],[160.5,0.85],[161.5,0.8],[162.5,0.7],[163.5,0.5],[164.5,0.65],[165.5,1.1],[166.4,1.5],[167.4,0.9],[168.4,0.1],[169.4,-0.4],[170.4,-0.8],[171.4,-0.85],[172.4,-0.9],[173.3,-0.95],[174.3,-1.0],[175.3,-1.0],[176.3,-1.3],[177.3,-1.5],[178.3,-0.5],[179.3,0.4],[180.2,1.2],[181.2,0.7],[182.2,0.65],[183.2,0.75],[184.2,0.7],[185.2,0.6],[186.2,0.7],[187.1,0.5],[188.1,-0.25],[189.1,-0.05],[190.1,-0.1],[191.1,-0.2],[192.1,-0.3],[193.1,-0.45],[194.0,-0.5],[195.0,-0.5],[196.0,-0.6],[197.0,-0.8],[198.0,-0.9],[199.0,-0.75],[200.0,-0.3],[201.0,-0.6],[201.9,-1.0],[202.9,-1.1],[203.9,-1.2],[204.9,-0.3],[205.9,-1.25],[206.9,-1.35],[207.9,-1.2],[208.8,-1.15],[209.8,-1.3],[210.8,-1.1],[211.8,-1.05],[212.8,-1.0],[213.8,-0.6],[214.8,-0.7],[215.7,-0.55],[216.7,-1.65],[217.7,-1.3],[218.7,-1.0],[219.7,-0.95],[220.7,-0.8],[221.7,-0.9],[222.6,-0.95],[223.6,-1.0],[224.6,-0.9],[225.6,-1.0],[226.6,-1.35],[227.6,-0.1],[228.6,0.15],[229.5,0.1],[230.5,0.2],[231.5,0.35],[232.5,0.35],[233.5,0.3],[234.5,0.2],[235.5,0.15],[236.4,0.15],[237.4,0.0],[238.4,-0.3],[239.4,-0.5],[240.4,-0.85],[241.4,-0.3],[242.4,-0.6],[243.4,-0.65],[244.3,-0.6],[245.3,-0.5],[246.3,-0.45],[247.3,-0.35],[248.3,-0.2],[249.3,-0.3],[250.3,-1.05],[251.2,-1.6],[252.2,-1.35],[253.2,-1.7],[254.2,-2.0],[255.2,-2.25],[256.2,-2.2],[257.2,-2.3],[258.1,-2.2],[259.1,-2.25],[260.1,-1.8],[261.1,-1.2],[262.1,-0.85],[263.1,-0.2],[264.1,-0.1],[265.0,-0.05],[266.0,-0.05],[267.0,-0.1],[268.0,-0.15],[269.0,-0.1],[270.0,-0.2],[271.0,-0.25],[271.9,-0.3],[272.9,-0.25],[273.9,-0.3],[274.9,-0.35]];

const NS = 'http://www.w3.org/2000/svg';
const svg = document.getElementById('chart');
const MONTH_MAX = 276;

const panels = [
  {key:'a', tag:'(a)', title:'SPI-6', ylabel:'SPI-6', x0:184, x1:1822, y0:89, y1:944, ymin:-3.07, ymax:2.74, ticks:yTicksSPI, obs:spi6Obs, mod:spi6Mod},
  {key:'b', tag:'(b)', title:'SPI-12', ylabel:'SPI-12', x0:2006, x1:3653, y0:89, y1:944, ymin:-3.09, ymax:2.65, ticks:yTicksSPI, obs:spi12Obs, mod:spi12Mod},
  {key:'c', tag:'(c)', title:'SPEI-6', ylabel:'SPEI-6', x0:184, x1:1822, y0:1116, y1:1982, ymin:-2.88, ymax:2.50, ticks:yTicksSPEI, obs:spei6Obs, mod:spei6Mod},
  {key:'d', tag:'(d)', title:'SPEI-12', ylabel:'SPEI-12', x0:2006, x1:3653, y0:1116, y1:1982, ymin:-2.68, ymax:2.57, ticks:yTicksSPEI, obs:spei12Obs, mod:spei12Mod}
];

function mk(tag, attrs, parent, text){
  const el = document.createElementNS(NS, tag);
  for (const k in attrs) el.setAttribute(k, attrs[k]);
  if (text !== undefined) el.textContent = text;
  parent.appendChild(el);
  return el;
}

panels.forEach(p => {
  const xs = m => p.x0 + m / MONTH_MAX * (p.x1 - p.x0);
  const ys = v => p.y1 - (v - p.ymin) / (p.ymax - p.ymin) * (p.y1 - p.y0);
  const g = mk('g', {}, svg);
  
  

  const frame = mk('rect', {x:p.x0, y:p.y0, width:p.x1-p.x0, height:p.y1-p.y0, fill:'#ffffff', stroke:'#cccccc', 'stroke-width':3}, g);
  
  

  const title = mk('text', {x:(p.x0+p.x1)/2, y:p.y0-22, 'text-anchor':'middle', 'font-size':46, fill:'#262626'}, g, p.title);
  
  

  const yl = mk('text', {x:0, y:0, 'text-anchor':'middle', 'font-size':48, fill:'#262626', transform:'translate(' + (p.x0-100) + ',' + ((p.y0+p.y1)/2) + ') rotate(-90)'}, g, p.ylabel);
  
  

  xTickYears.forEach(yr => {
    const t = mk('text', {x:xs((yr-1992)*12), y:p.y1+60, 'text-anchor':'middle', 'font-size':46, fill:'#262626'}, g, String(yr));
    
    
  });
  p.ticks.forEach(v => {
    const t = mk('text', {x:p.x0-22, y:ys(v)+16, 'text-anchor':'end', 'font-size':46, fill:'#262626'}, g, v < 0 ? '\u2212' + Math.abs(v) : String(v));
    
    
  });

  const zero = mk('line', {x1:p.x0, x2:p.x1, y1:ys(0), y2:ys(0), stroke:'#666666', 'stroke-width':3}, g);
  
  

  const dMod = p.mod.map((d,i) => (i ? 'L' : 'M') + xs(d[0]).toFixed(1) + ' ' + ys(d[1]).toFixed(1)).join(' ');
  const lm = mk('path', {d:dMod, fill:'none', stroke:'#555555', 'stroke-width':5, 'stroke-dasharray':'5 7', 'stroke-linejoin':'round'}, g);
  
  

  const dObs = p.obs.map((d,i) => (i ? 'L' : 'M') + xs(d[0]).toFixed(1) + ' ' + ys(d[1]).toFixed(1)).join(' ');
  const lo = mk('path', {d:dObs, fill:'none', stroke:'#303030', 'stroke-width':6, 'stroke-linejoin':'round'}, g);
  
  

  const tag = mk('text', {x:p.x0+16, y:p.y0+92, 'font-size':38, 'font-weight':'bold', fill:'#262626'}, g, p.tag);
  
  

  const lg = mk('g', {}, g);
  
  
  const ly1 = p.y0 + 50, ly2 = p.y0 + 104;
  const s1 = mk('line', {x1:p.x1-318, x2:p.x1-240, y1:ly1, y2:ly1, stroke:'#555555', 'stroke-width':5, 'stroke-dasharray':'5 7'}, lg);
  
  
  const t1 = mk('text', {x:p.x1-214, y:ly1+13, 'font-size':36, fill:'#262626'}, lg, 'CMIP6');
  
  
  const s2 = mk('line', {x1:p.x1-318, x2:p.x1-240, y1:ly2, y2:ly2, stroke:'#303030', 'stroke-width':6}, lg);
  
  
  const t2 = mk('text', {x:p.x1-214, y:ly2+13, 'font-size':36, fill:'#262626'}, lg, 'BR-DWGD');
  
  
});
</script>
</body></html>
